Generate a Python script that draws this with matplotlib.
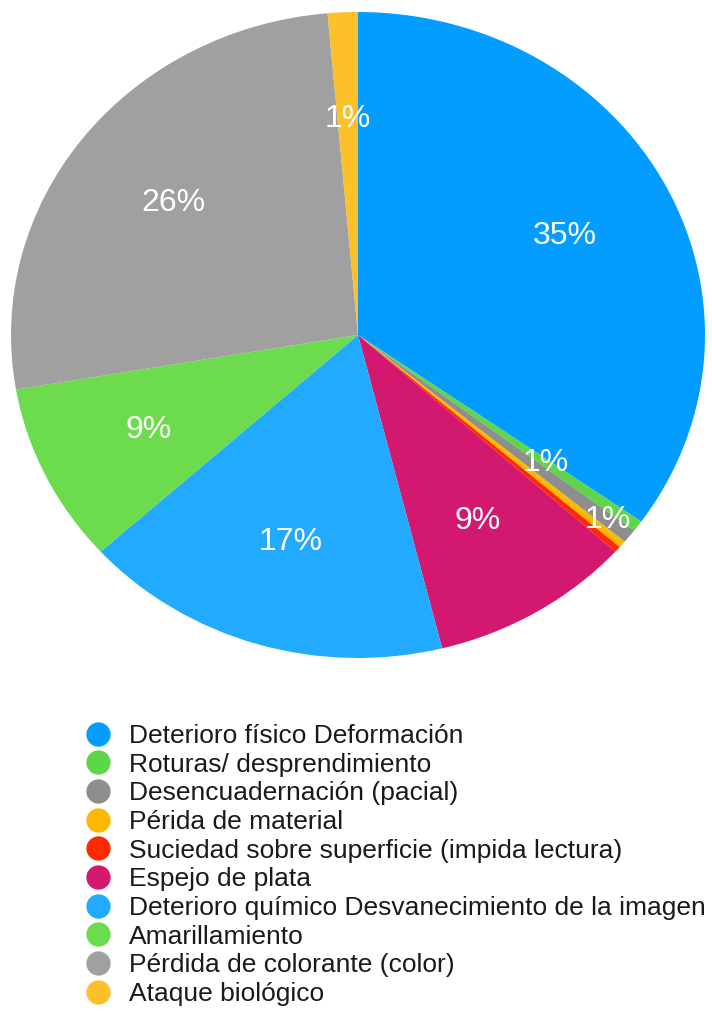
import matplotlib
matplotlib.use("Agg")
import matplotlib.pyplot as plt
from matplotlib.lines import Line2D
import numpy as np

plt.rcParams['font.family'] = ['Liberation Sans', 'DejaVu Sans']

categories = [
    "Deterioro físico Deformación",
    "Roturas/ desprendimiento",
    "Desencuadernación (pacial)",
    "Périda de material",
    "Suciedad sobre superficie (impida lectura)",
    "Espejo de plata",
    "Deterioro químico Desvanecimiento de la imagen",
    "Amarillamiento",
    "Pérdida de colorante (color)",
    "Ataque biológico",
]
values = [34.8, 0.55, 0.7, 0.35, 0.3, 9.4, 17.2, 9.0, 26.3, 1.4]
colors = ["#039DFF", "#5ED64A", "#8E8E8E", "#FFB800", "#FF2A00",
          "#D3186F", "#22AAFF", "#6CDC4E", "#A0A0A0", "#FBC02A"]
label_radius = [0.67, 0.67, 0.92, 0.67, 0.67, 0.67, 0.67, 0.67, 0.67, 0.67]

W, H = 712, 1011
fig = plt.figure(figsize=(W / 100, H / 100), dpi=100)

# pie axes (slightly elliptical like the reference)
left, right, top, bottom = 11, 705, 12, 658
ax = fig.add_axes([left / W, 1 - bottom / H, (right - left) / W, (bottom - top) / H])
wedges, _ = ax.pie(values, colors=colors, startangle=90, counterclock=False,
                   wedgeprops=dict(linewidth=0))
ax.set_aspect('auto')
ax.set_xlim(-1, 1)
ax.set_ylim(-1, 1)
for w in wedges:
    w.set_clip_on(False)

total = sum(values)
for w, v, r in zip(wedges, values, label_radius):
    pct = round(100 * v / total)
    if pct < 1:
        continue
    ang = np.deg2rad((w.theta1 + w.theta2) / 2)
    ax.text(r * np.cos(ang), r * np.sin(ang), f"{pct}%", ha='center', va='center',
            color='white', fontsize=23)

handles = [Line2D([], [], marker='o', linestyle='', markersize=17.5,
                  markerfacecolor=c, markeredgewidth=0) for c in colors]
fig.legend(handles, categories, loc='upper left',
           bbox_to_anchor=(84.8 / W, 1 - 724 / H), frameon=False,
           fontsize=19, borderpad=0, borderaxespad=0, handlelength=1.0,
           handletextpad=0.67, labelspacing=0.176, labelcolor='#1a1a1a')

fig.savefig("out.png", dpi=100, facecolor='white')
